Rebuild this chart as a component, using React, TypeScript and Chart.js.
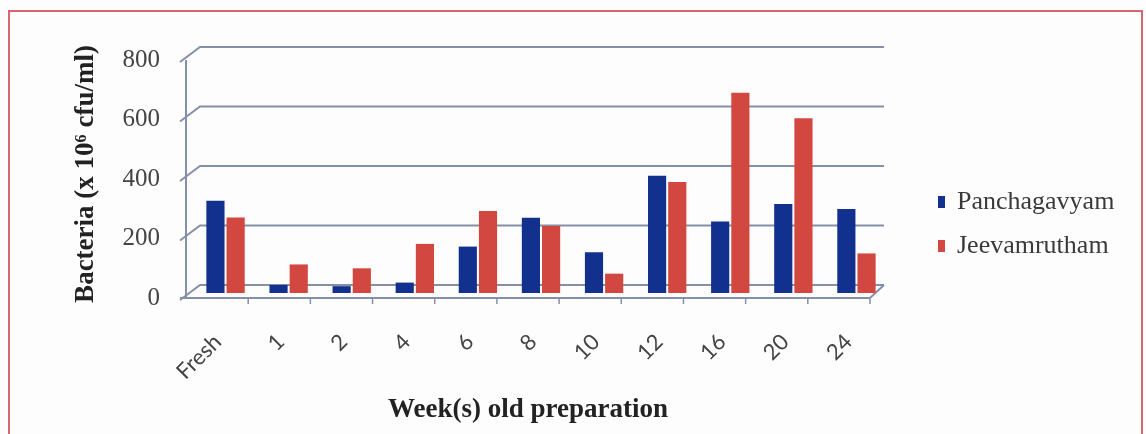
import React, { useEffect, useRef } from "react";
import { Chart, registerables } from "chart.js";

Chart.register(...registerables);

const categories = ["Fresh", "1", "2", "4", "6", "8", "10", "12", "16", "20", "24"];
const panchagavyam = [310, 27, 23, 35, 156, 253, 137, 394, 240, 299, 282];
const jeevamrutham = [254, 96, 83, 165, 276, 225, 65, 373, 673, 587, 133];
const seriesNames = ["Panchagavyam", "Jeevamrutham"];
const yTicks = [0, 200, 400, 600, 800];
const xTitle = "Week(s) old preparation";
const yTitle = "Bacteria (x 10⁶ cfu/ml)";

const BLUE = "#12318e";
const RED = "#d2473f";
const GRID = "#8590a8";

const frame3d = {
  id: "frame3d",
  beforeDatasetsDraw(chart: any) {
    const { ctx, chartArea } = chart;
    const ys = chart.scales.y;
    const L = chartArea.left - 4;
    const R = chartArea.right - 4;
    ctx.save();
    ctx.strokeStyle = GRID;
    ctx.lineWidth = 2;
    yTicks.forEach((v) => {
      const y = ys.getPixelForValue(v);
      ctx.beginPath();
      ctx.moveTo(L - 10, y + 7);
      ctx.lineTo(L + 10, y - 8);
      ctx.lineTo(R, y - 8);
      ctx.stroke();
    });
    const y0 = ys.getPixelForValue(0);
    const y8 = ys.getPixelForValue(800);
    ctx.beginPath();
    ctx.moveTo(L - 4, y8 + 5);
    ctx.lineTo(L - 4, y0 + 5);
    ctx.stroke();
    ctx.beginPath();
    ctx.moveTo(L - 10, y0 + 5);
    ctx.lineTo(R - 14, y0 + 5);
    ctx.lineTo(R, y0 - 8);
    ctx.stroke();
    const step = (R - 14 - (L - 4)) / categories.length;
    ctx.lineWidth = 1.5;
    for (let i = 1; i <= categories.length; i++) {
      const x = L - 4 + i * step;
      ctx.beginPath();
      ctx.moveTo(x, y0 + 6);
      ctx.lineTo(x, y0 + 11);
      ctx.stroke();
    }
    ctx.restore();
  },
};

const legendPlugin = {
  id: "customLegend",
  afterDraw(chart: any) {
    const { ctx } = chart;
    const colors = [BLUE, RED];
    ctx.save();
    ctx.font = "26px 'Liberation Serif'";
    ctx.textBaseline = "middle";
    chart.data.datasets.forEach((ds: any, i: number) => {
      const y = 202 + i * 44;
      ctx.fillStyle = colors[i];
      ctx.fillRect(938, y - 6, 7, 12);
      ctx.fillStyle = "#3a3a3a";
      ctx.fillText(ds.label, 957, y);
    });
    // x axis title
    ctx.font = "bold 27px 'Liberation Serif'";
    ctx.fillStyle = "#222";
    ctx.textAlign = "center";
    ctx.fillText(xTitle, 528, 410);
    ctx.restore();
  },
};

export default function App() {
  const ref = useRef<HTMLCanvasElement | null>(null);
  useEffect(() => {
    if (!ref.current) return;
    const chart = new Chart(ref.current, {
      type: "bar",
      data: {
        labels: categories,
        datasets: [
          { label: seriesNames[0], data: panchagavyam, backgroundColor: BLUE, categoryPercentage: 0.64, barPercentage: 0.9 },
          { label: seriesNames[1], data: jeevamrutham, backgroundColor: RED, categoryPercentage: 0.64, barPercentage: 0.9 },
        ],
      },
      options: {
        animation: false,
        responsive: false,
        layout: { padding: { left: 70, right: 258, top: 55, bottom: 10 } },
        plugins: { legend: { display: false }, tooltip: { enabled: false } },
        scales: {
          x: {
            grid: { display: false, drawTicks: false },
            border: { display: false },
            ticks: {
              maxRotation: 45,
              minRotation: 45,
              padding: 36,
              labelOffset: -8,
              color: "#444",
              font: { family: "Lato", size: 22 },
            },
            afterFit: (s: any) => {
              s.height = 434 - 10 - 293;
            },
          },
          y: {
            min: 0,
            max: 800,
            grid: { display: false, drawTicks: false },
            border: { display: false },
            ticks: {
              stepSize: 200,
              padding: 34,
              labelOffset: 5,
              color: "#444",
              font: { family: "'Liberation Serif'", size: 25 },
            },
            title: {
              display: true,
              text: yTitle,
              color: "#222",
              font: { family: "'Liberation Serif'", size: 27, weight: "bold" },
              padding: 0,
            },
            afterFit: (s: any) => {
              s.width = 194 - 70;
            },
          },
        },
      },
      plugins: [frame3d, legendPlugin],
    });
    return () => chart.destroy();
  }, []);
  return (
    <div style={{ position: "absolute", left: 0, top: 0, width: 1146, height: 434, background: "#fdfdfd", overflow: "hidden" }}>
      <div style={{ position: "absolute", left: 8, top: 10, width: 1135, height: 440, border: "2px solid #d86670", boxSizing: "border-box" }} />
      <canvas ref={ref} width={1146} height={434} style={{ position: "absolute", left: 0, top: 0, width: 1146, height: 434 }} />
    </div>
  );
}
